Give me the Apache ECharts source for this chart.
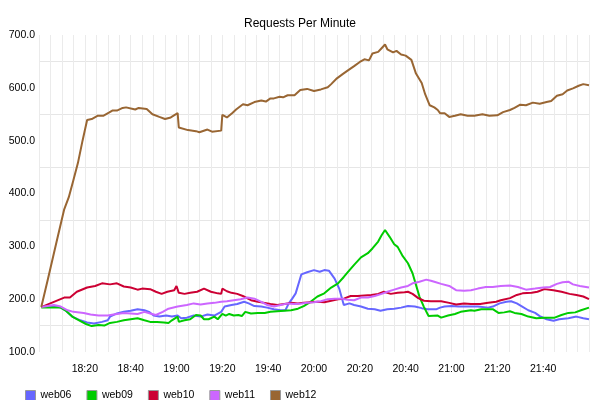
<!DOCTYPE html>
<html>
<head>
<meta charset="utf-8">
<script src="https://cdn.jsdelivr.net/npm/echarts@6/dist/echarts.min.js"></script>
<style>html,body{margin:0;padding:0;background:#fff}#c{width:600px;height:400px}</style>
</head>
<body>
<div id="c"></div>
<script>
// x values are minutes after 18:00
var seriesNames = ['web06', 'web09', 'web10', 'web11', 'web12'];
var seriesColors = ['#6666ff', '#00cc00', '#cc0033', '#cc66ff', '#996633'];
var yTickLabels = ['100.0', '200.0', '300.0', '400.0', '500.0', '600.0', '700.0'];
var xTickLabels = ['18:20', '18:40', '19:00', '19:20', '19:40', '20:00', '20:20', '20:40', '21:00', '21:20', '21:40'];

var web06 = [[1,185],[6.5,187],[9.5,184],[11.5,179],[14.5,167],[18,160],[21,156],[24,154],[27.5,157],[30,160],[31,167],[34,173],[37,176],[40,178],[43,181],[46,179],[48,176],[50,169],[52.5,167],[55.5,169],[58,167],[60.5,169],[62,164],[64.5,165],[67.5,169],[70.5,167],[73.5,171],[76.5,169],[79.5,176],[81,186],[84,189],[86.5,191],[89.5,195],[91.5,192],[94,187],[97,186],[99.5,184],[102.5,181],[105.5,179],[107.5,179],[109,192],[110.5,201],[112,211],[114.5,247],[117,251],[120,255],[122.5,252],[124.5,255],[126.5,254],[129,239],[131,220],[133,189],[135.5,192],[137.5,189],[140.5,186],[143.5,182],[146.5,181],[149,178],[152,181],[155,182],[158,184],[161,187],[164,186],[167,183],[169.5,181],[173.5,181],[175,184],[177,186],[180,187],[183,186],[187,186],[191.5,186],[196,184],[198,186],[201,192],[204,195],[206,196],[208.5,192],[210.5,187],[213.5,179],[216.5,174],[218.5,168],[221.5,162],[224.5,159],[227,162],[231,164],[234.5,167],[237.5,164],[240,162]];

var web09 = [[1,184],[5,184],[9.5,184],[11.5,179],[14.5,167],[17.5,160],[20.5,153],[23,149],[26,151],[28.5,150],[31,155],[34,157],[37,160],[40,162],[43,164],[46,160],[48.5,157],[51.5,157],[54.5,156],[56.5,155],[58,160],[60.5,167],[61,157],[63.5,160],[66,162],[68.5,170],[70.5,169],[72,162],[74,162],[76.5,167],[78,162],[80,172],[81.5,169],[83,172],[85,169],[87,170],[88.5,168],[90,176],[92.5,173],[95.5,174],[98.5,174],[101,176],[104,177],[107,178],[110,179],[113,182],[115.5,187],[118.5,195],[121.5,205],[124.5,211],[127.5,222],[130.5,230],[133,242],[135.5,255],[137.5,265],[140.5,279],[143.5,287],[145.5,296],[148,309],[149.5,321],[151,331],[153,318],[155,304],[156.5,299],[158.5,283],[161,268],[163,249],[164.5,227],[166,205],[168,185],[170,168],[174,169],[175.5,165],[178.5,169],[181.5,172],[184,176],[187,178],[188.5,179],[190,178],[193,181],[196,181],[198,181],[200.5,174],[203,175],[205.5,177],[207.5,174],[210.5,172],[213.5,167],[217,164],[220.5,165],[225,165],[228,170],[231,174],[234,175],[236.5,179],[240,184]];

var web10 = [[1,185],[6.5,195],[11,203],[13.5,203],[16.5,214],[21,222],[24.5,225],[27.5,230],[31,228],[34,230],[37,224],[40,222],[43,218],[45,220],[48.5,219],[51,214],[53.5,210],[56,214],[59,217],[60,225],[61,212],[63.5,210],[66,212],[69,214],[72,220],[75,214],[78,211],[79.5,210],[80,220],[82,215],[84,212],[86.5,210],[89.5,205],[92.5,198],[95.5,195],[98.5,193],[101,191],[104,189],[107,191],[110,193],[113,192],[115.5,193],[118.5,194],[121.5,195],[124.5,194],[127.5,197],[130.5,200],[133,201],[136,206],[139,206],[142,207],[145,208],[148,210],[150.5,214],[153.5,210],[156.5,212],[159.5,213],[161,214],[163,210],[165.5,202],[168,197],[171,196],[175.5,196],[179,193],[182,190],[185.5,192],[188.5,191],[192.5,191],[196,193],[199.5,195],[201.5,198],[205.5,202],[208.5,208],[211,211],[215,212],[217.5,214],[220.5,219],[224.5,217],[228,214],[231.5,210],[234.5,208],[237.5,205],[240,200]];

var web11 = [[1,185],[6.5,189],[9.5,186],[12.5,179],[15,176],[19.5,174],[22.5,171],[26,169],[30,169],[32.5,171],[37,174],[40,173],[43,172],[46,176],[48.5,173],[51,170],[54,176],[56.5,182],[60.5,186],[64.5,189],[67.5,192],[70.5,190],[73.5,192],[76.5,193],[79.5,195],[82,196],[85,198],[88,200],[91,203],[94,201],[97,195],[99.5,189],[102.5,186],[105.5,189],[108.5,192],[111.5,191],[114.5,192],[117,193],[120,194],[123,196],[126,200],[129,201],[132,201],[134.5,199],[137.5,198],[140.5,203],[143.5,203],[146.5,206],[149.5,210],[152,214],[155,218],[158,222],[161,225],[163,230],[166,233],[169,237],[171,235],[172.5,233],[175.5,229],[179,225],[182,217],[185.5,216],[188.5,217],[191.5,220],[195,223],[198,223],[201.5,225],[205.5,226],[209,223],[212.5,218],[216.5,220],[220,222],[223,223],[226,229],[228.5,232],[231,233],[233,228],[236,225],[240,222]];

var web12 = [[1,185],[4,240],[8,315],[11,370],[13,393],[15,425],[17,458],[19,500],[21,539],[23,541],[25.5,547],[28,547],[30.5,553],[32,557],[34,557],[36.5,562],[38,563],[42,559],[43.5,562],[47,560],[49.5,550],[52.5,545],[55,541],[57.5,544],[60.5,552],[61,525],[65,520],[68.5,518],[70,516],[73.5,521],[75.5,517],[79.5,519],[80,549],[82,544],[84.5,553],[86,559],[89,569],[91,567],[94,573],[97,576],[99,574],[101,580],[102.5,580],[105,583],[106.5,582],[108.5,586],[111.5,586],[114,596],[117,598],[120,594],[123,597],[126,601],[127.5,607],[130,618],[132.5,626],[134.5,632],[137.5,641],[140,649],[142,654],[144,652],[145.5,665],[148,668],[149.5,675],[151,682],[152,673],[154.5,667],[156,670],[158,663],[160,661],[162.5,653],[164.5,627],[167,609],[168.5,588],[170.5,567],[172.5,563],[174,558],[175,552],[177,552],[179,545],[181.5,547],[184,550],[187,547],[190,547],[193.5,550],[196.5,547],[200,548],[202.5,554],[205.5,558],[207.5,562],[210,568],[212.5,567],[215.5,572],[218.5,570],[221.5,573],[223.5,575],[226,585],[228.5,588],[230.5,595],[233,599],[235.5,604],[237.5,607],[240,605]];

var seriesData = [web06, web09, web10, web11, web12];
var FONT = '"Liberation Sans", Arial, sans-serif';

var chart = echarts.init(document.getElementById('c'), null, {renderer: 'canvas'});
chart.setOption({
  animation: false,
  backgroundColor: '#ffffff',
  title: {
    text: 'Requests Per Minute',
    left: 'center',
    top: 13,
    textStyle: {fontFamily: FONT, fontSize: 12, fontWeight: 'normal', color: '#000'}
  },
  legend: {
    data: seriesNames,
    left: 20,
    top: 385,
    icon: 'rect',
    itemWidth: 10,
    itemHeight: 10,
    itemGap: 15,
    itemStyle: {borderColor: '#999', borderWidth: 1},
    textStyle: {fontFamily: FONT, fontSize: 10.5, color: '#000', width: 33}
  },
  grid: {left: 39, right: 11, top: 35, bottom: 48, containLabel: false},
  xAxis: {
    type: 'value',
    min: 0, max: 240, interval: 5,
    axisLine: {show: false},
    axisTick: {show: false},
    splitLine: {show: true, lineStyle: {color: '#ebebeb', width: 1}},
    axisLabel: {
      fontFamily: FONT, fontSize: 10.5, color: '#000', margin: 12,
      formatter: function (v) {
        if (v % 20 !== 0) return '';
        var i = v / 20 - 1;
        return (i >= 0 && i < xTickLabels.length) ? xTickLabels[i] : '';
      }
    }
  },
  yAxis: {
    type: 'value',
    min: 100, max: 700, interval: 50,
    axisLine: {show: false},
    axisTick: {show: false},
    splitLine: {show: true, lineStyle: {color: ['rgba(0,0,0,0)', '#e6e6e6'], width: 1}},
    axisLabel: {
      fontFamily: FONT, fontSize: 10.5, color: '#000', margin: 4,
      formatter: function (v) {
        if (v % 100 !== 0) return '';
        return yTickLabels[(v - 100) / 100];
      }
    }
  },
  series: seriesNames.map(function (n, i) {
    return {
      name: n,
      type: 'line',
      data: seriesData[i],
      showSymbol: false,
      symbol: 'none',
      color: seriesColors[i],
      lineStyle: {width: 2, color: seriesColors[i]},
      emphasis: {disabled: true}
    };
  })
});
</script>
</body>
</html>
